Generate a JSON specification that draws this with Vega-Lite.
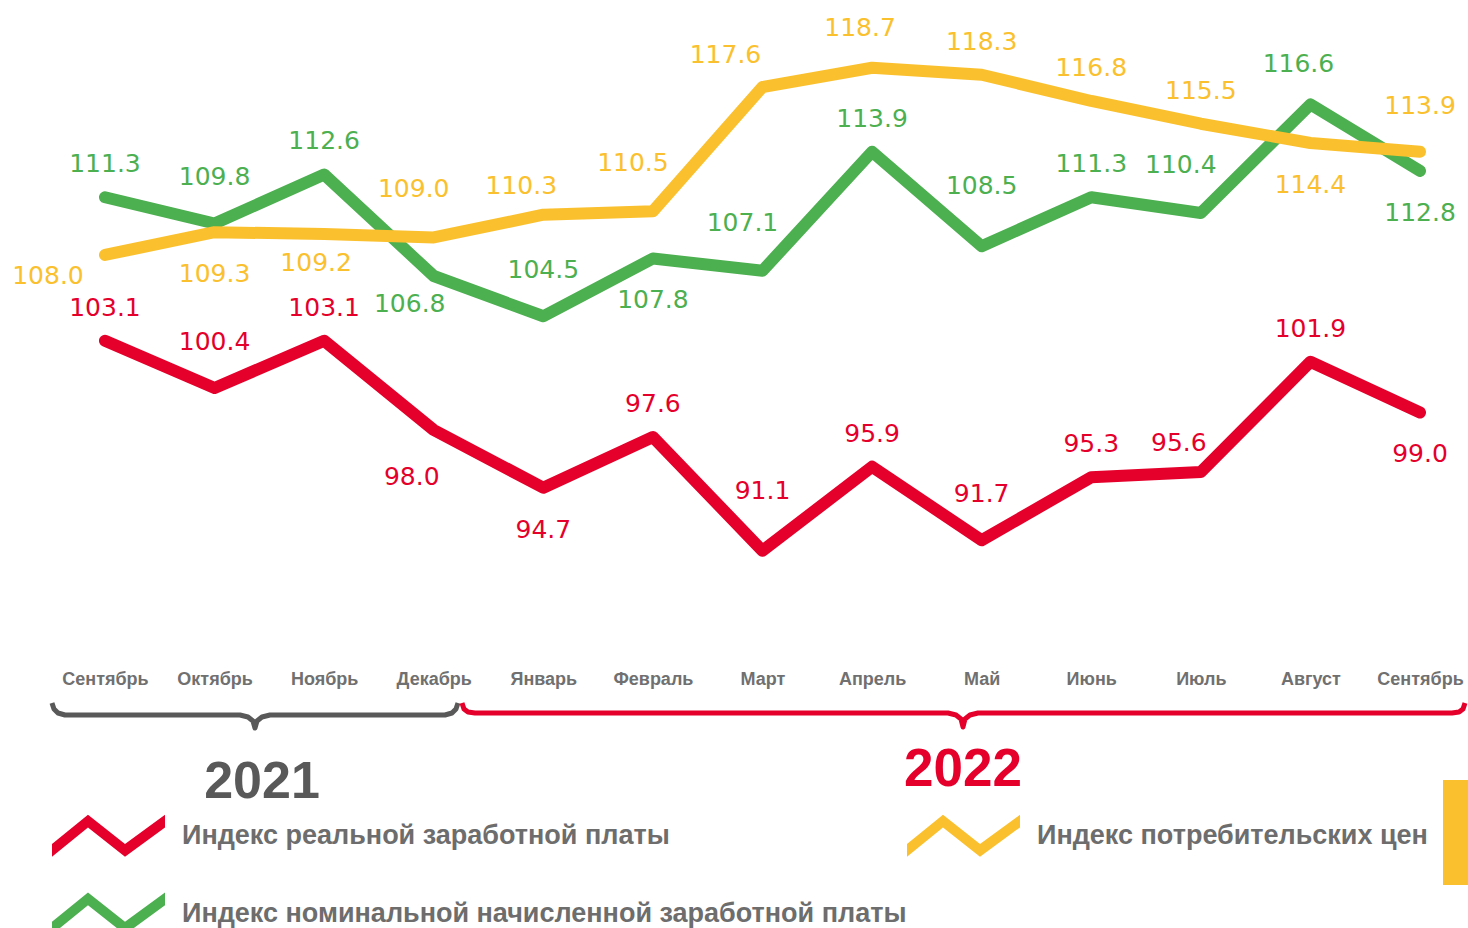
{
  "$schema": "https://vega.github.io/schema/vega-lite/v6.json",
  "width": 1468,
  "height": 660,
  "autosize": {"type": "none"},
  "padding": {"left": 0, "top": 0, "right": 0, "bottom": 268},
  "background": "white",
  "config": {"view": {"stroke": null}, "font": "Liberation Sans"},
  "data": {"values": [
    {"s": "nom", "i": 0, "v": 111.3, "p": "a"},
    {"s": "nom", "i": 1, "v": 109.8, "p": "A"},
    {"s": "nom", "i": 2, "v": 112.6, "p": "a"},
    {"s": "nom", "i": 3, "v": 106.8, "p": "bL"},
    {"s": "nom", "i": 4, "v": 104.5, "p": "A"},
    {"s": "nom", "i": 5, "v": 107.8, "p": "b"},
    {"s": "nom", "i": 6, "v": 107.1, "p": "Al"},
    {"s": "nom", "i": 7, "v": 113.9, "p": "a"},
    {"s": "nom", "i": 8, "v": 108.5, "p": "AA"},
    {"s": "nom", "i": 9, "v": 111.3, "p": "a"},
    {"s": "nom", "i": 10, "v": 110.4, "p": "Al"},
    {"s": "nom", "i": 11, "v": 116.6, "p": "am"},
    {"s": "nom", "i": 12, "v": 112.8, "p": "b"},
    {"s": "cpi", "i": 0, "v": 108.0, "p": "l"},
    {"s": "cpi", "i": 1, "v": 109.3, "p": "b"},
    {"s": "cpi", "i": 2, "v": 109.2, "p": "bs"},
    {"s": "cpi", "i": 3, "v": 109.0, "p": "Al"},
    {"s": "cpi", "i": 4, "v": 110.3, "p": "al"},
    {"s": "cpi", "i": 5, "v": 110.5, "p": "Al"},
    {"s": "cpi", "i": 6, "v": 117.6, "p": "all"},
    {"s": "cpi", "i": 7, "v": 118.7, "p": "am"},
    {"s": "cpi", "i": 8, "v": 118.3, "p": "a"},
    {"s": "cpi", "i": 9, "v": 116.8, "p": "a"},
    {"s": "cpi", "i": 10, "v": 115.5, "p": "a"},
    {"s": "cpi", "i": 11, "v": 114.4, "p": "b"},
    {"s": "cpi", "i": 12, "v": 113.9, "p": "A"},
    {"s": "real", "i": 0, "v": 103.1, "p": "a"},
    {"s": "real", "i": 1, "v": 100.4, "p": "A"},
    {"s": "real", "i": 2, "v": 103.1, "p": "a"},
    {"s": "real", "i": 3, "v": 98.0, "p": "bl"},
    {"s": "real", "i": 4, "v": 94.7, "p": "b"},
    {"s": "real", "i": 5, "v": 97.6, "p": "a"},
    {"s": "real", "i": 6, "v": 91.1, "p": "AA"},
    {"s": "real", "i": 7, "v": 95.9, "p": "a"},
    {"s": "real", "i": 8, "v": 91.7, "p": "A"},
    {"s": "real", "i": 9, "v": 95.3, "p": "a"},
    {"s": "real", "i": 10, "v": 95.6, "p": "al"},
    {"s": "real", "i": 11, "v": 101.9, "p": "a"},
    {"s": "real", "i": 12, "v": 99.0, "p": "b"}
  ]},
  "encoding": {
    "x": {"field": "i", "type": "quantitative",
      "scale": {"domain": [-0.958, 12.438], "nice": false, "zero": false},
      "axis": {"values": [0,1,2,3,4,5,6,7,8,9,10,11,12],
        "labelExpr": "['Сентябрь','Октябрь','Ноябрь','Декабрь','Январь','Февраль','Март','Апрель','Май','Июнь','Июль','Август','Сентябрь'][datum.value]",
        "domain": false, "ticks": false, "grid": false, "title": null,
        "labelFont": "Liberation Sans", "labelFontSize": 18, "labelFontWeight": "bold",
        "labelColor": "#707070", "labelPadding": 10, "labelOverlap": false, "labelFlush": false}},
    "y": {"field": "v", "type": "quantitative",
      "scale": {"domain": [84.857, 122.571], "nice": false, "zero": false},
      "axis": null}
  },
  "layer": [
    {
      "data": {"values": [{}]},
      "mark": {"type": "rule", "color": "#d9d9d9", "strokeWidth": 1},
      "encoding": {
        "x": {"datum": -0.4837, "type": "quantitative"},
        "x2": {"datum": 12.438},
        "y": {"datum": 100, "type": "quantitative"}
      }
    },
    {
      "data": {"values": [
        {"b": "2021", "i": -0.4837, "v": 82.400},
        {"b": "2021", "i": -0.4654, "v": 82.057},
        {"b": "2021", "i": -0.4289, "v": 81.828},
        {"b": "2021", "i": -0.3650, "v": 81.714},
        {"b": "2021", "i": 1.2319, "v": 81.714},
        {"b": "2021", "i": 1.3049, "v": 81.600},
        {"b": "2021", "i": 1.3506, "v": 81.371},
        {"b": "2021", "i": 1.3688, "v": 80.971},
        {"b": "2021", "i": 1.3871, "v": 81.371},
        {"b": "2021", "i": 1.4327, "v": 81.600},
        {"b": "2021", "i": 1.5057, "v": 81.714},
        {"b": "2021", "i": 3.1027, "v": 81.714},
        {"b": "2021", "i": 3.1666, "v": 81.828},
        {"b": "2021", "i": 3.2030, "v": 82.057},
        {"b": "2021", "i": 3.2213, "v": 82.400},
        {"b": "2022", "i": 3.2578, "v": 82.400},
        {"b": "2022", "i": 3.2760, "v": 82.057},
        {"b": "2022", "i": 3.3125, "v": 81.886},
        {"b": "2022", "i": 3.3764, "v": 81.828},
        {"b": "2022", "i": 7.6928, "v": 81.828},
        {"b": "2022", "i": 7.7658, "v": 81.714},
        {"b": "2022", "i": 7.8114, "v": 81.486},
        {"b": "2022", "i": 7.8297, "v": 81.029},
        {"b": "2022", "i": 7.8479, "v": 81.486},
        {"b": "2022", "i": 7.8935, "v": 81.714},
        {"b": "2022", "i": 7.9665, "v": 81.828},
        {"b": "2022", "i": 12.2921, "v": 81.828},
        {"b": "2022", "i": 12.3560, "v": 81.886},
        {"b": "2022", "i": 12.3925, "v": 82.057},
        {"b": "2022", "i": 12.4107, "v": 82.400}
      ]},
      "mark": {"type": "line", "strokeWidth": 5, "strokeJoin": "round", "strokeCap": "butt"},
      "encoding": {
        "stroke": {"field": "b", "type": "nominal",
          "scale": {"domain": ["2021", "2022"], "range": ["#595959", "#e4002b"]},
          "legend": null}
      }
    },
    {
      "mark": {"type": "line", "strokeWidth": 12, "strokeCap": "round", "strokeJoin": "round"},
      "encoding": {
        "color": {"field": "s", "type": "nominal",
          "scale": {"domain": ["real", "cpi", "nom"], "range": ["#e4002b", "#fbc02d", "#4caf50"]},
          "legend": {
            "orient": "none", "legendX": 52, "legendY": 779,
            "direction": "horizontal", "columns": 2, "title": null, "padding": 0,
            "symbolType": "M-1,0.148L-0.363,-0.372L0.292,0.148L1,-0.372L1,-0.148L0.292,0.372L-0.363,-0.148L-1,0.372Z",
            "symbolSize": 12769, "symbolStrokeWidth": 0,
            "labelFont": "Liberation Sans", "labelFontSize": 27, "labelFontWeight": "bold",
            "labelColor": "#6d6d6d", "labelLimit": 1200, "labelOffset": 17,
            "rowPadding": -44, "columnPadding": -23,
            "labelExpr": "datum.label == 'real' ? 'Индекс реальной заработной платы' : datum.label == 'cpi' ? 'Индекс потребительских цен' : 'Индекс номинальной начисленной заработной платы'"
          }}
      }
    },
    {
      "transform": [{"filter": "datum.p == 'a'"}],
      "mark": {"type": "text", "font": "DejaVu Sans", "fontSize": 25, "dy": -33, "align": "center", "baseline": "middle"},
      "encoding": {"text": {"field": "v", "type": "quantitative", "format": ".1f"},
        "fill": {"field": "s", "type": "nominal", "scale": {"domain": ["real", "cpi", "nom"], "range": ["#e4002b", "#fbc02d", "#4caf50"]}, "legend": null}}
    },
    {
      "transform": [{"filter": "datum.p == 'am'"}],
      "mark": {"type": "text", "font": "DejaVu Sans", "fontSize": 25, "dx": -12, "dy": -40, "align": "center", "baseline": "middle"},
      "encoding": {"text": {"field": "v", "type": "quantitative", "format": ".1f"},
        "fill": {"field": "s", "type": "nominal", "legend": null}}
    },
    {
      "transform": [{"filter": "datum.p == 'A'"}],
      "mark": {"type": "text", "font": "DejaVu Sans", "fontSize": 25, "dy": -46, "align": "center", "baseline": "middle"},
      "encoding": {"text": {"field": "v", "type": "quantitative", "format": ".1f"},
        "fill": {"field": "s", "type": "nominal", "legend": null}}
    },
    {
      "transform": [{"filter": "datum.p == 'AA'"}],
      "mark": {"type": "text", "font": "DejaVu Sans", "fontSize": 25, "dy": -60, "align": "center", "baseline": "middle"},
      "encoding": {"text": {"field": "v", "type": "quantitative", "format": ".1f"},
        "fill": {"field": "s", "type": "nominal", "legend": null}}
    },
    {
      "transform": [{"filter": "datum.p == 'b'"}],
      "mark": {"type": "text", "font": "DejaVu Sans", "fontSize": 25, "dy": 42, "align": "center", "baseline": "middle"},
      "encoding": {"text": {"field": "v", "type": "quantitative", "format": ".1f"},
        "fill": {"field": "s", "type": "nominal", "legend": null}}
    },
    {
      "transform": [{"filter": "datum.p == 'bs'"}],
      "mark": {"type": "text", "font": "DejaVu Sans", "fontSize": 25, "dx": -8, "dy": 29, "align": "center", "baseline": "middle"},
      "encoding": {"text": {"field": "v", "type": "quantitative", "format": ".1f"},
        "fill": {"field": "s", "type": "nominal", "legend": null}}
    },
    {
      "transform": [{"filter": "datum.p == 'bl'"}],
      "mark": {"type": "text", "font": "DejaVu Sans", "fontSize": 25, "dx": -22, "dy": 47, "align": "center", "baseline": "middle"},
      "encoding": {"text": {"field": "v", "type": "quantitative", "format": ".1f"},
        "fill": {"field": "s", "type": "nominal", "legend": null}}
    },
    {
      "transform": [{"filter": "datum.p == 'bL'"}],
      "mark": {"type": "text", "font": "DejaVu Sans", "fontSize": 25, "dx": -24, "dy": 28, "align": "center", "baseline": "middle"},
      "encoding": {"text": {"field": "v", "type": "quantitative", "format": ".1f"},
        "fill": {"field": "s", "type": "nominal", "legend": null}}
    },
    {
      "transform": [{"filter": "datum.p == 'al'"}],
      "mark": {"type": "text", "font": "DejaVu Sans", "fontSize": 25, "dx": -22, "dy": -29, "align": "center", "baseline": "middle"},
      "encoding": {"text": {"field": "v", "type": "quantitative", "format": ".1f"},
        "fill": {"field": "s", "type": "nominal", "legend": null}}
    },
    {
      "transform": [{"filter": "datum.p == 'all'"}],
      "mark": {"type": "text", "font": "DejaVu Sans", "fontSize": 25, "dx": -37, "dy": -32, "align": "center", "baseline": "middle"},
      "encoding": {"text": {"field": "v", "type": "quantitative", "format": ".1f"},
        "fill": {"field": "s", "type": "nominal", "legend": null}}
    },
    {
      "transform": [{"filter": "datum.p == 'Al'"}],
      "mark": {"type": "text", "font": "DejaVu Sans", "fontSize": 25, "dx": -20, "dy": -48, "align": "center", "baseline": "middle"},
      "encoding": {"text": {"field": "v", "type": "quantitative", "format": ".1f"},
        "fill": {"field": "s", "type": "nominal", "legend": null}}
    },
    {
      "transform": [{"filter": "datum.p == 'l'"}],
      "mark": {"type": "text", "font": "DejaVu Sans", "fontSize": 25, "dx": -57, "dy": 21, "align": "center", "baseline": "middle"},
      "encoding": {"text": {"field": "v", "type": "quantitative", "format": ".1f"},
        "fill": {"field": "s", "type": "nominal", "legend": null}}
    },
    {
      "data": {"values": [{"t": "2021", "i": 1.4327, "v": 77.886}]},
      "mark": {"type": "text", "fontSize": 52, "fontWeight": "bold", "color": "#595959", "align": "center", "baseline": "middle"},
      "encoding": {"text": {"field": "t", "type": "nominal"}}
    },
    {
      "data": {"values": [{"t": "2022", "i": 7.8297, "v": 78.571}]},
      "mark": {"type": "text", "fontSize": 53, "fontWeight": "bold", "color": "#e4002b", "align": "center", "baseline": "middle"},
      "encoding": {"text": {"field": "t", "type": "nominal"}}
    },
    {
      "data": {"values": [{"i": 12.2099, "i2": 12.438, "v": 78.0, "v2": 72.0}]},
      "mark": {"type": "rect", "color": "#fbc02d"},
      "encoding": {
        "x2": {"field": "i2"},
        "y2": {"field": "v2"}
      }
    }
  ]
}
